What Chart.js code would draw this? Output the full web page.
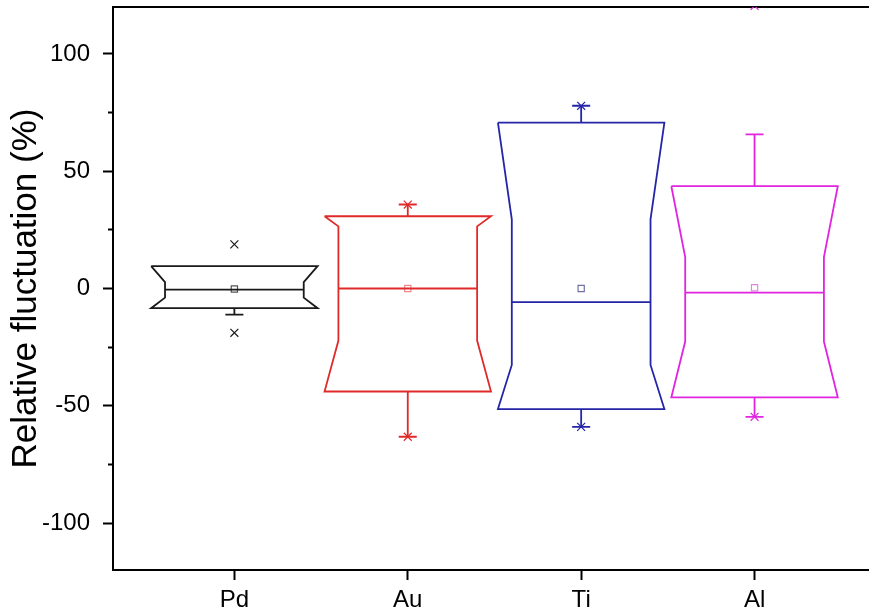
<!DOCTYPE html>
<html>
<head>
<meta charset="utf-8">
<script src="https://cdn.jsdelivr.net/npm/chart.js@4/dist/chart.umd.min.js"></script>
<style>
html, body { margin: 0; padding: 0; background: #fff; overflow: hidden; }
</style>
</head>
<body>
<canvas id="boxChart" width="869" height="616"></canvas>
<script>
// data
const categories = ['Pd', 'Au', 'Ti', 'Al'];
const q1 = [-8.4, -43.9, -51.4, -46.4];
const q3 = [9.5, 30.8, 70.7, 43.6];
const medians = [-0.5, 0, -5.8, -1.8];
const notchLo = [-3.9, -22.2, -32.6, -22.6];
const notchHi = [2.7, 26.5, 29.5, 13.4];
const whiskerLo = [-11.1, -63.2, -59.0, -54.7];
const whiskerHi = [9.5, 35.8, 77.9, 65.7];
const means = [-0.2, 0, 0, 0.3];
const extremeLo = [-18.9, -63.2, -59.0, -54.7];
const extremeHi = [18.8, 35.8, 77.9, 120.5];
const yTicks = [-100, -50, 0, 50, 100];
const yMinorTicks = [-75, -25, 25, 75];

const lineColors = ['#1a1a1a', '#e02a2a', '#2525a8', '#e024e0'];
const meanColors = ['#555555', '#e88a8a', '#7070a8', '#e088e0'];

const FONT = "'Liberation Sans', Arial, sans-serif";
const HALF = 0.48;   // half box width (category units)
const INDENT = 0.08; // notch depth
const CAP = 0.052;   // whisker cap half width

function shapePoints(i) {
    const c = i + 1;
    const gap = { x: c, y: null };
    return [
        { x: c - HALF, y: q3[i] }, { x: c + HALF, y: q3[i] },
        { x: c + HALF - INDENT, y: notchHi[i] }, { x: c + HALF - INDENT, y: notchLo[i] },
        { x: c + HALF, y: q1[i] }, { x: c - HALF, y: q1[i] },
        { x: c - HALF + INDENT, y: notchLo[i] }, { x: c - HALF + INDENT, y: notchHi[i] },
        { x: c - HALF, y: q3[i] }, gap,
        { x: c - HALF + INDENT, y: medians[i] }, { x: c + HALF - INDENT, y: medians[i] }, gap,
        { x: c, y: q3[i] }, { x: c, y: whiskerHi[i] }, gap,
        { x: c - CAP, y: whiskerHi[i] }, { x: c + CAP, y: whiskerHi[i] }, gap,
        { x: c, y: q1[i] }, { x: c, y: whiskerLo[i] }, gap,
        { x: c - CAP, y: whiskerLo[i] }, { x: c + CAP, y: whiskerLo[i] }
    ];
}

const datasets = [];
categories.forEach((name, i) => {
    datasets.push({
        label: name + ' box',
        data: shapePoints(i),
        showLine: true,
        spanGaps: false,
        borderColor: lineColors[i],
        borderWidth: 1.8,
        pointRadius: 0,
        fill: false,
        xAxisID: 'x',
        yAxisID: 'y'
    });
});
categories.forEach((name, i) => {
    datasets.push({
        label: name + ' 1%/99%',
        data: [{ x: i + 1, y: extremeHi[i] }, { x: i + 1, y: extremeLo[i] }],
        pointStyle: 'crossRot',
        pointRadius: 5.6,
        pointBorderWidth: 1.2,
        borderColor: lineColors[i],
        clip: 0,
        xAxisID: 'x',
        yAxisID: 'y'
    });
    datasets.push({
        label: name + ' mean',
        data: [{ x: i + 1, y: means[i] }],
        pointStyle: 'rect',
        pointRadius: 4.4,
        pointBorderWidth: 1.2,
        borderColor: meanColors[i],
        backgroundColor: 'rgba(0,0,0,0)',
        xAxisID: 'x',
        yAxisID: 'y'
    });
});

function noPadding(scale) {
    scale.paddingTop = 0;
    scale.paddingBottom = 0;
    scale.paddingLeft = 0;
    scale.paddingRight = 0;
}

const ctx = document.getElementById('boxChart').getContext('2d');
const boxChart = new Chart(ctx, {
    type: 'scatter',
    data: { datasets: datasets },
    options: {
        responsive: false,
        animation: false,
        layout: { autoPadding: false, padding: { top: 7, right: 0, left: 0, bottom: 0 } },
        plugins: { legend: { display: false }, tooltip: { enabled: false } },
        scales: {
            x: {
                type: 'linear',
                position: 'bottom',
                min: 0.3,
                max: 4.66,
                afterBuildTicks: scale => { scale.ticks = categories.map((c, i) => ({ value: i + 1 })); },
                afterFit: scale => { scale.height = 46; noPadding(scale); },
                ticks: {
                    callback: value => categories[Math.round(value) - 1],
                    font: { family: FONT, size: 24 },
                    color: '#000',
                    padding: 6,
                    autoSkip: false,
                    maxRotation: 0
                },
                grid: { drawOnChartArea: false, tickLength: 10, tickWidth: 2, tickColor: '#000' },
                border: { color: '#000', width: 2 }
            },
            xTop: {
                type: 'linear',
                position: 'top',
                min: 0.3,
                max: 4.66,
                afterFit: scale => { scale.height = 0; noPadding(scale); },
                ticks: { display: false },
                grid: { display: false, drawTicks: false },
                border: { display: true, color: '#000', width: 2 }
            },
            y: {
                type: 'linear',
                position: 'left',
                weight: 1,
                min: -120,
                max: 120,
                afterBuildTicks: scale => { scale.ticks = yTicks.map(v => ({ value: v })); },
                afterFit: scale => { scale.width = 113; noPadding(scale); },
                ticks: {
                    font: { family: FONT, size: 24 },
                    color: '#000',
                    padding: 13
                },
                grid: { drawOnChartArea: false, tickLength: 10, tickWidth: 2, tickColor: '#000' },
                border: { color: '#000', width: 2 },
                title: {
                    display: true,
                    text: 'Relative fluctuation (%)',
                    font: { family: FONT, size: 35 },
                    color: '#000',
                    padding: { top: 5, bottom: 0 }
                }
            },
            yMinor: {
                type: 'linear',
                position: 'left',
                weight: 0,
                min: -120,
                max: 120,
                afterBuildTicks: scale => { scale.ticks = yMinorTicks.map(v => ({ value: v })); },
                afterFit: scale => { scale.width = 0; noPadding(scale); },
                ticks: { display: false },
                grid: { drawOnChartArea: false, tickLength: 5, tickWidth: 2, tickColor: '#000' },
                border: { display: false }
            }
        }
    }
});
</script>
</body>
</html>
